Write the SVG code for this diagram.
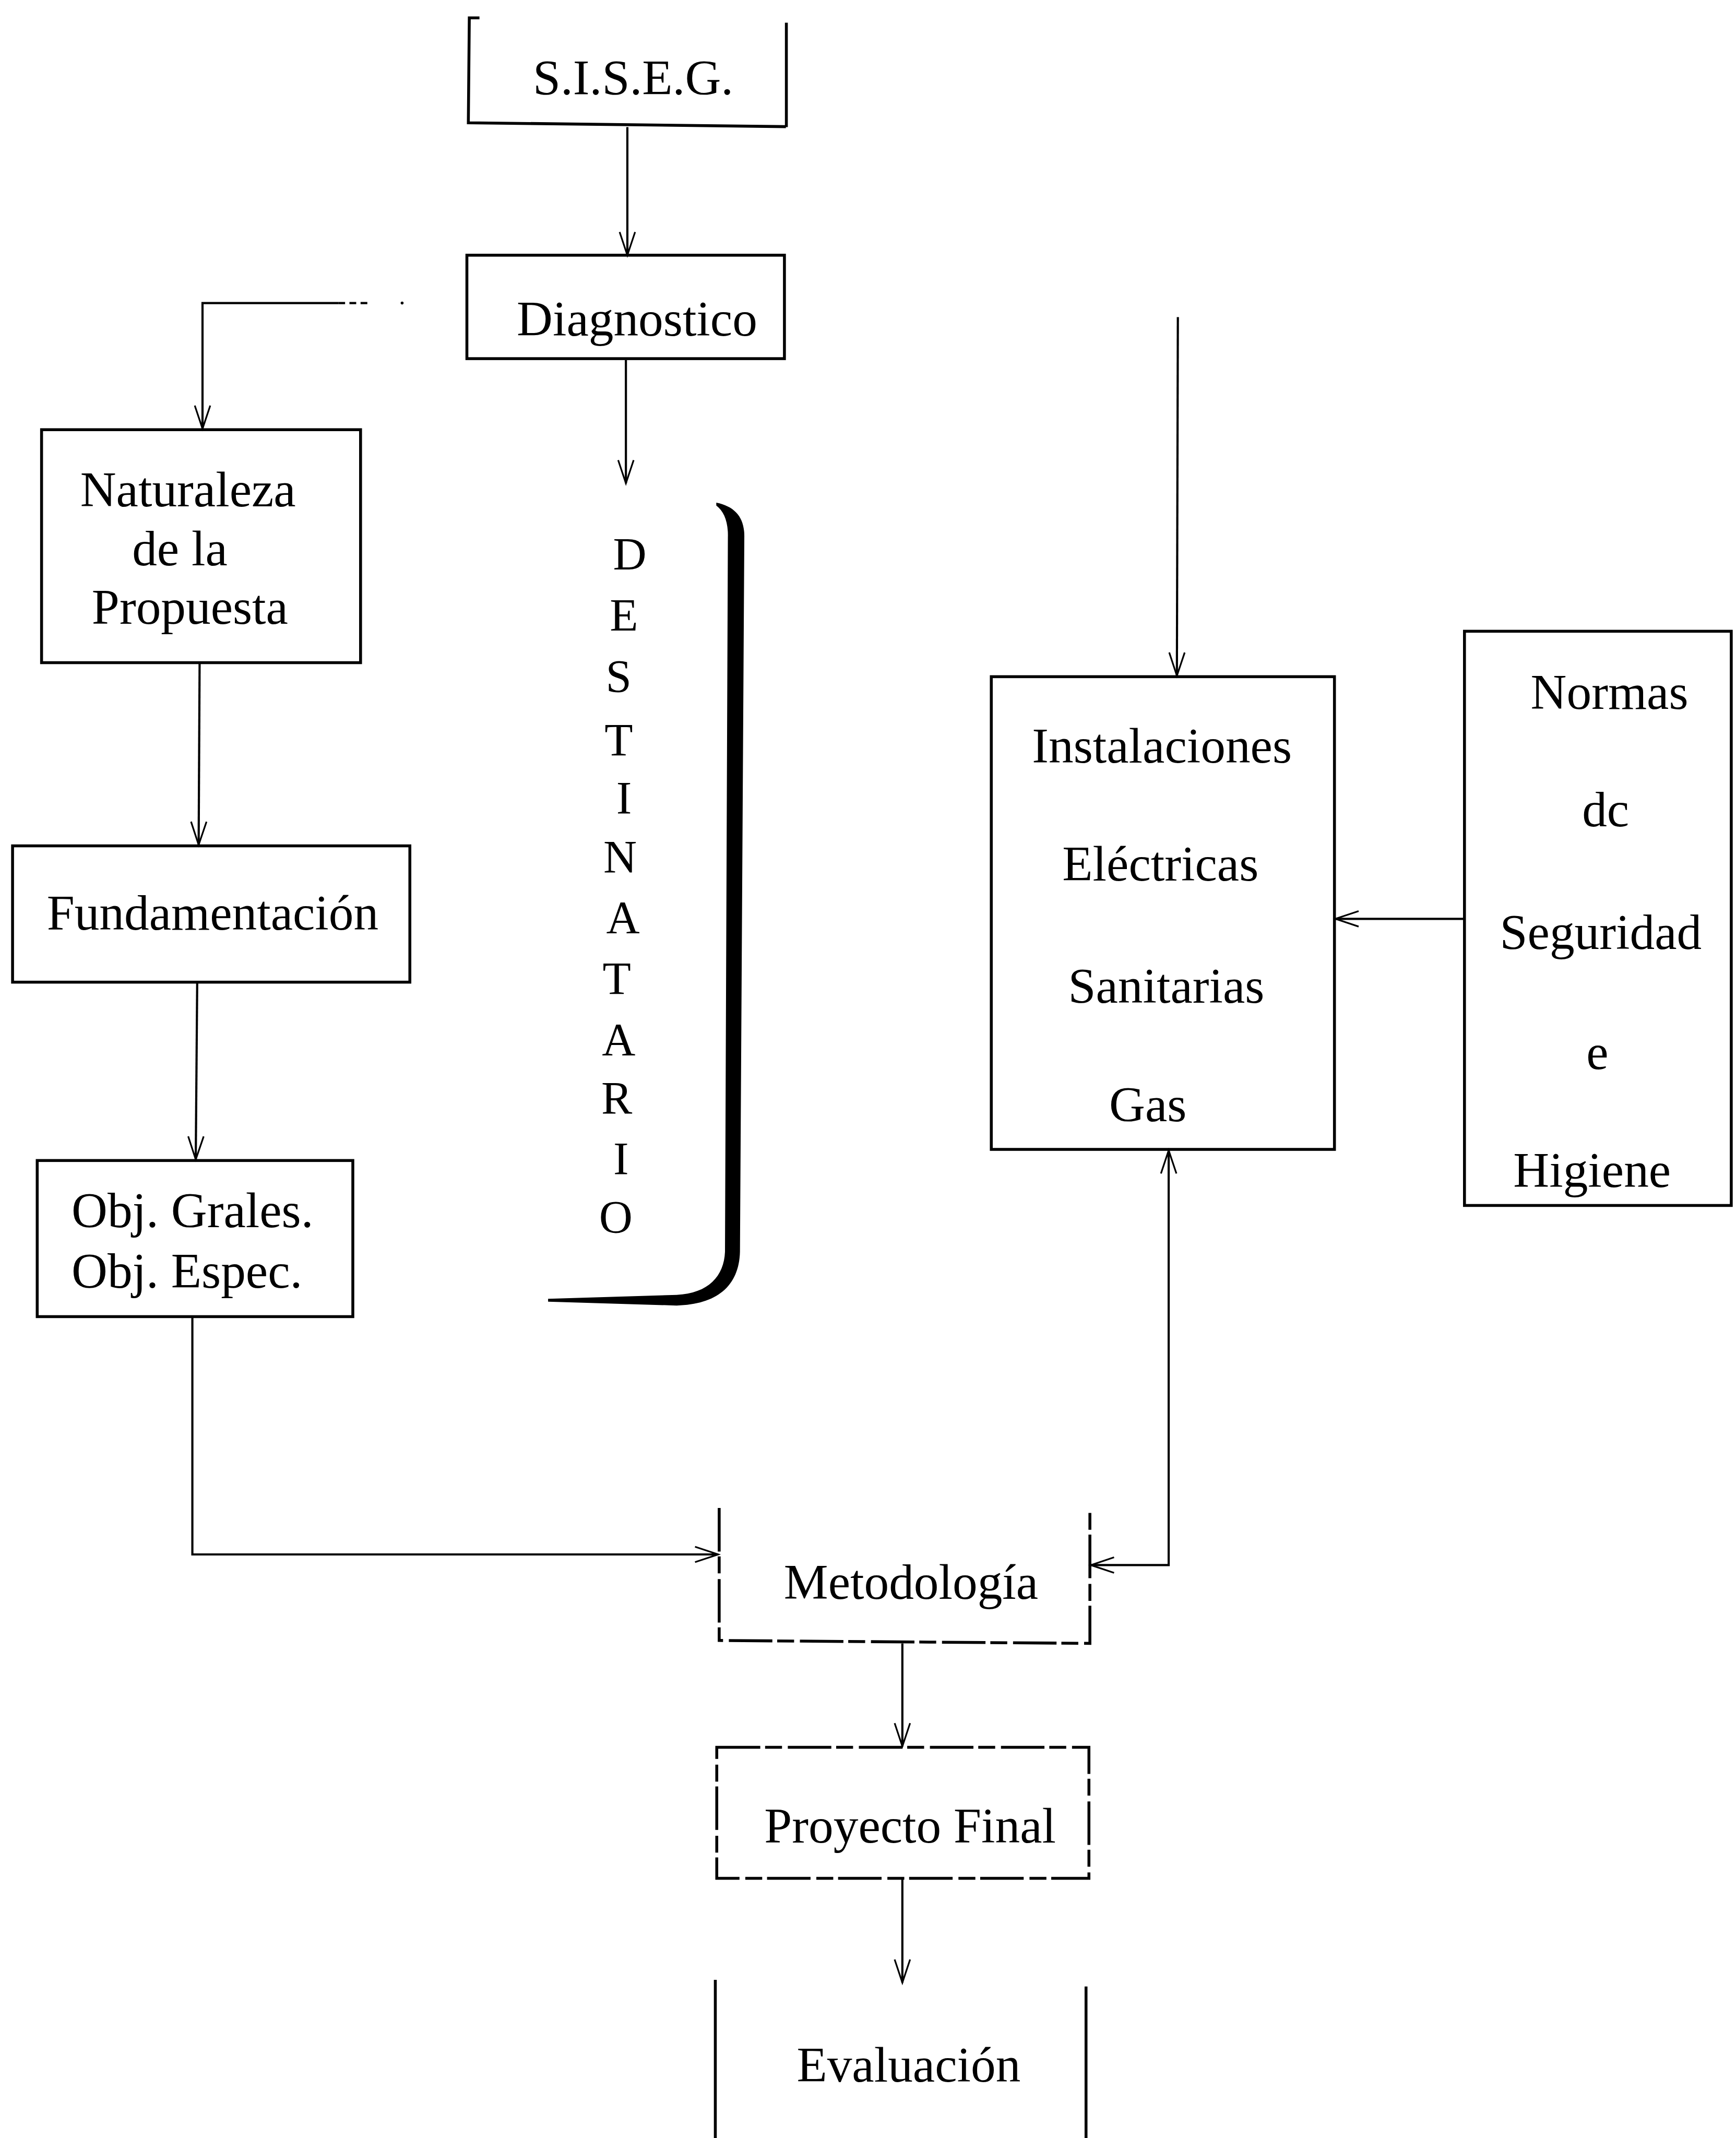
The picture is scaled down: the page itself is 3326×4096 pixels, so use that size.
<svg xmlns="http://www.w3.org/2000/svg" width="3326" height="4096" viewBox="0 0 3326 4096">
<defs>
<marker id="arr" markerUnits="userSpaceOnUse" markerWidth="60" markerHeight="40" viewBox="-54 -20 60 40" refX="0" refY="0" orient="auto-start-reverse" overflow="visible">
<path d="M-48,-16 L0,0 L-48,16" fill="none" stroke="#000" stroke-width="3.5"/>
</marker>
<style>
.box{fill:none;stroke:#000;stroke-width:6}
.ln{fill:none;stroke:#000;stroke-width:4.5}
.dash{stroke-dasharray:90 10 35 12}
.dot{stroke-dasharray:14 9}
.t{font-family:"Liberation Serif","Times New Roman",serif;font-size:103px;fill:#000;text-anchor:middle}
.s{text-anchor:start}
.v{font-size:96px}
</style>
</defs>
<rect width="3326" height="4096" fill="#fff"/>
<g transform="scale(0.926)">

<g id="connectors">
<path class="ln" d="M1298,263 L1298,528" marker-end="url(#arr)"/>
<path class="ln" d="M1295,745 L1295,1000" marker-end="url(#arr)"/>
<path class="ln" d="M700,627 L419,627 L419,887" marker-end="url(#arr)"/>
<path class="ln dot" d="M700,627 L769,627"/>
<circle cx="832" cy="627" r="3" fill="#000"/>
<path class="ln" d="M413,1371 L411,1748" marker-end="url(#arr)"/>
<path class="ln" d="M408,2033 L405,2399" marker-end="url(#arr)"/>
<path class="ln" d="M398,2724 L398,3216 L1486,3216" marker-end="url(#arr)"/>
<path class="ln" d="M2437,656 L2435,1398" marker-end="url(#arr)"/>
<path class="ln" d="M3028,1901 L2763,1901" marker-end="url(#arr)"/>
<path class="ln" d="M2257,3238 L2418,3238 L2418,2380" marker-start="url(#arr)" marker-end="url(#arr)"/>
<path class="ln" d="M1867,3400 L1867,3613" marker-end="url(#arr)"/>
<path class="ln" d="M1867,3886 L1867,4102" marker-end="url(#arr)"/>
</g>

<g id="siseg">
<path class="box" d="M992,37 L971,37 L969,254 L1626,262 M1627,47 L1627,263"/>
<text class="t" x="1310" y="196">S.I.S.E.G.</text>
</g>

<g id="diagnostico">
<rect class="box" x="966" y="528" width="657" height="214"/>
<text class="t" x="1318" y="694">Diagnostico</text>
</g>

<g id="naturaleza">
<rect class="box" x="86" y="889" width="660" height="482"/>
<text class="t" x="389" y="1047">Naturaleza</text>
<text class="t" x="372" y="1170">de la</text>
<text class="t" x="393" y="1290">Propuesta</text>
</g>

<g id="fundamentacion">
<rect class="box" x="26" y="1750" width="822" height="282"/>
<text class="t" x="440" y="1923">Fundamentación</text>
</g>

<g id="objetivos">
<rect class="box" x="77" y="2401" width="653" height="323"/>
<text class="t s" x="148" y="2539">Obj. Grales.</text>
<text class="t s" x="148" y="2664">Obj. Espec.</text>
</g>

<g id="destinatario">
<path d="M1482,1040 C1522,1048 1541,1072 1540,1112 L1531,2590 C1529,2662 1482,2699 1400,2701 L1134,2693 L1134,2687 L1400,2679 C1466,2676 1498,2640 1500,2590 L1506,1112 C1507,1080 1498,1058 1482,1046 Z" fill="#000"/>
<text class="t v" x="1303" y="1178">D</text>
<text class="t v" x="1291" y="1304">E</text>
<text class="t v" x="1280" y="1431">S</text>
<text class="t v" x="1280" y="1563">T</text>
<text class="t v" x="1291" y="1683">I</text>
<text class="t v" x="1283" y="1804">N</text>
<text class="t v" x="1289" y="1930">A</text>
<text class="t v" x="1276" y="2056">T</text>
<text class="t v" x="1280" y="2183">A</text>
<text class="t v" x="1276" y="2303">R</text>
<text class="t v" x="1285" y="2429">I</text>
<text class="t v" x="1274" y="2550">O</text>
</g>

<g id="instalaciones">
<rect class="box" x="2051" y="1400" width="710" height="978"/>
<text class="t" x="2404" y="1578">Instalaciones</text>
<text class="t" x="2401" y="1822">Eléctricas</text>
<text class="t" x="2413" y="2075">Sanitarias</text>
<text class="t" x="2375" y="2320">Gas</text>
</g>

<g id="normas">
<rect class="box" x="3030" y="1306" width="552" height="1188"/>
<text class="t" x="3330" y="1467">Normas</text>
<text class="t" x="3322" y="1710">dc</text>
<text class="t" x="3312" y="1963">Seguridad</text>
<text class="t" x="3305" y="2212">e</text>
<text class="t" x="3294" y="2456">Higiene</text>
</g>

<g id="metodologia">
<path class="box dash" d="M1488,3120 L1488,3394 L2255,3400 L2255,3129"/>
<text class="t" x="1885" y="3308">Metodología</text>
</g>

<g id="proyecto">
<rect class="box dash" x="1483" y="3615" width="770" height="271"/>
<text class="t" x="1883" y="3812">Proyecto Final</text>
</g>

<g id="evaluacion">
<path class="box" d="M1480,4096 L1480,4430 M2247,4110 L2247,4430"/>
<text class="t" x="1880" y="4307">Evaluación</text>
</g>

</g>
</svg>
